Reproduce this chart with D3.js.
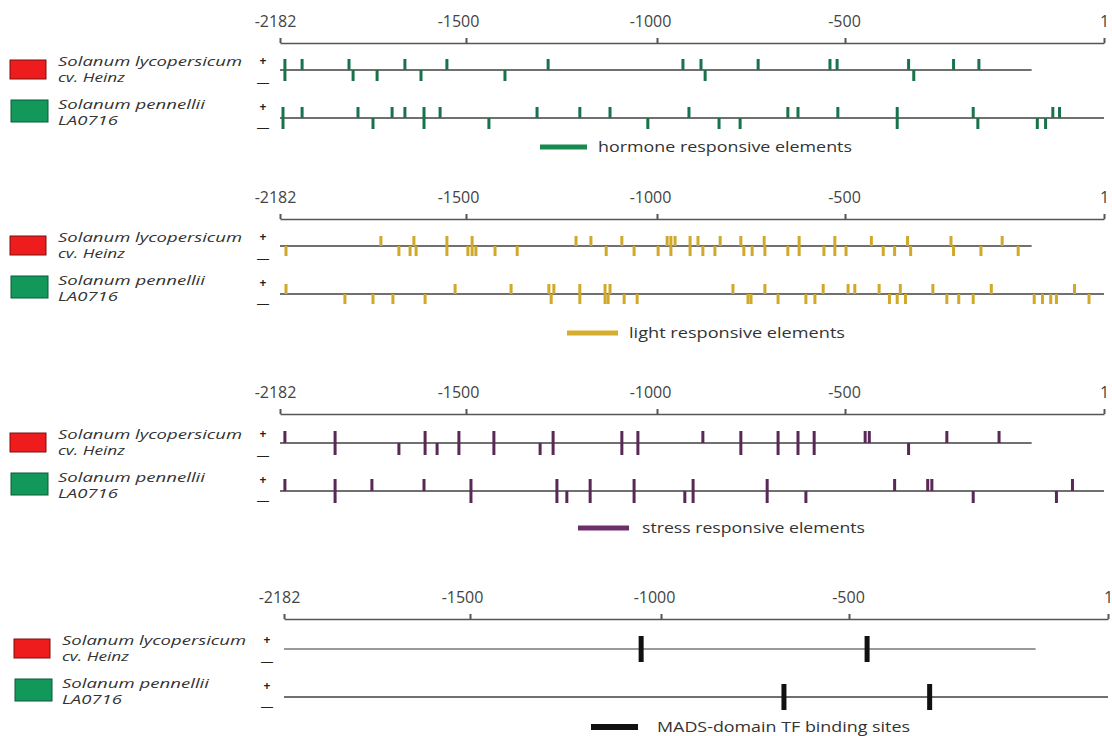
<!DOCTYPE html>
<html>
<head>
<meta charset="utf-8">
<script src="https://cdn.jsdelivr.net/npm/d3@7"></script>
<style>
body { margin: 0; background: #fff; }
text { font-family: "Open Sans", sans-serif; }
</style>
</head>
<body>
<div id="chart-area"></div>
<script>
// axis positions (bp upstream of the start)
var tickValues = [-2182, -1500, -1000, -500, 1];
var strains = [["Solanum lycopersicum", "cv. Heinz"], ["Solanum pennellii", "LA0716"]];
var elementNames = ["hormone responsive elements", "light responsive elements",
                    "stress responsive elements", "MADS-domain TF binding sites"];
var promoterEnds = [-139, 1];   // Heinz, pennellii

// hormone responsive elements
var hormoneHeinzPlus  = [-2164, -2101, -1929, -1724, -1570, -1285, -931, -883, -731, -540, -521, -377, -290, -241];
var hormoneHeinzMinus = [-2164, -1914, -1826, -1665, -1398, -872, -367];
var hormonePennPlus   = [-2171, -2101, -1896, -1771, -1724, -1654, -1595, -1314, -1202, -1123, -915, -652, -625, -519, -399, -252, -98, -85];
var hormonePennMinus  = [-2171, -1841, -1654, -1440, -1024, -835, -779, -399, -243, -128, -112];

// light responsive elements
var lightHeinzPlus  = [-1812, -1691, -1570, -1484, -1212, -1173, -1092, -973, -963, -952, -912, -891, -832, -777, -715, -622, -527, -449, -379, -295, -196];
var lightHeinzMinus = [-2160, -1746, -1705, -1683, -1570, -1495, -1484, -1474, -1424, -1366, -1133, -1060, -997, -963, -912, -878, -846, -769, -747, -713, -652, -622, -556, -527, -498, -426, -404, -373, -290, -237, -165];
var lightPennPlus   = [-2160, -1540, -1382, -1283, -1270, -1202, -1136, -1123, -798, -713, -558, -494, -481, -434, -393, -330, -217, -56];
var lightPennMinus  = [-1944, -1841, -1768, -1650, -1277, -1202, -1136, -1128, -1086, -1052, -758, -750, -678, -604, -580, -414, -399, -383, -303, -280, -252, -134, -118, -102, -91, -28];

// stress responsive elements
var stressHeinzPlus  = [-2164, -1980, -1650, -1526, -1427, -1272, -1092, -1050, -878, -777, -678, -625, -582, -461, -453, -303, -202];
var stressHeinzMinus = [-1980, -1746, -1650, -1606, -1526, -1427, -1306, -1272, -1092, -1050, -777, -678, -625, -582, -377];
var stressPennPlus   = [-2164, -1980, -1845, -1654, -1487, -1262, -1175, -1060, -904, -707, -404, -340, -332, -60];
var stressPennMinus  = [-1980, -1487, -1262, -1236, -1175, -1060, -926, -904, -707, -604, -252, -91];

// MADS-domain TF binding sites (both strands)
var madsHeinz = [-1052, -465];
var madsPenn  = [-673, -344];


var width = 1112, height = 736;

var svg = d3.select("#chart-area")
    .append("svg")
        .attr("width", width)
        .attr("height", height);

var x = d3.scaleLinear()
    .domain(tickValues)
    .range([280, 466, 657, 845, 1104]);

// the source figure is stretched sideways, so texts get a fixed length
var nameLengths = [[184, 67], [147, 60]];
var labelNudge = [-5, -8, -7, -1, 0];

var panels = [
    { color: "#17744a", swatch: "#178a50", top: 0,   dx: 0, axisShift: 0, legendY: 147, legendX: [540, 587, 598], legendLen: 254,
      markW: 3, markH: 11,
      tracks: [[hormoneHeinzPlus, hormoneHeinzMinus], [hormonePennPlus, hormonePennMinus]] },
    { color: "#d0a92a", swatch: "#d6ad2c", top: 176, dx: 0, axisShift: 0, legendY: 333, legendX: [567, 618, 629], legendLen: 216,
      markW: 3, markH: 10,
      tracks: [[lightHeinzPlus, lightHeinzMinus], [lightPennPlus, lightPennMinus]] },
    { color: "#582956", swatch: "#6d2f6b", top: 373, dx: 0, axisShift: -2, legendY: 528, legendX: [578, 629, 642], legendLen: 223,
      markW: 3, markH: 12,
      tracks: [[stressHeinzPlus, stressHeinzMinus], [stressPennPlus, stressPennMinus]] },
    { color: "#111111", swatch: "#111111", top: 579, dx: 4, axisShift: -3, legendY: 727, legendX: [591, 638, 657], legendLen: 253,
      markW: 5, markH: 13,
      tracks: [[madsHeinz, madsHeinz], [madsPenn, madsPenn]] }
];

var axisY = 43, trackY = [70, 118];

panels.forEach(function(p, i) {
    var g = svg.append("g")
        .attr("transform", "translate(" + p.dx + ", " + p.top + ")");

    // legend boxes for the two species
    g.append("rect")
        .attr("x", 10).attr("y", 60).attr("width", 36).attr("height", 19)
        .attr("fill", "#ee1c1c").attr("stroke", "#7a1010").attr("stroke-width", 1);
    g.append("rect")
        .attr("x", 11).attr("y", 100).attr("width", 37).attr("height", 22)
        .attr("fill", "#11985a").attr("stroke", "#0c5a36").attr("stroke-width", 1);

    // species names, two lines each
    var names = [[66, 82], [109, 125]];
    strains.forEach(function(s, k) {
        s.forEach(function(line, j) {
            g.append("text")
                .attr("x", 58)
                .attr("y", names[k][j])
                .attr("font-size", "13px")
                .attr("font-style", "italic")
                .attr("fill", "#333")
                .attr("textLength", nameLengths[k][j])
                .attr("lengthAdjust", "spacingAndGlyphs")
                .text(line);
        });
    });

    // strand signs
    [61, 107].forEach(function(yy) {
        g.append("text").attr("x", 263).attr("y", yy + 4)
            .attr("text-anchor", "middle").attr("font-size", "12px").attr("font-weight", "bold")
            .attr("fill", "#222").text("+");
    });
    [83, 128].forEach(function(yy) {
        g.append("text").attr("x", 263).attr("y", yy + 4)
            .attr("text-anchor", "middle").attr("font-size", "13px")
            .attr("fill", "#222").text("—");
    });

    // coordinate axis
    var axisCall = d3.axisTop(x)
        .tickValues(tickValues)
        .tickSize(5)
        .tickSizeOuter(0)
        .tickPadding(11)
        .tickFormat(function(d) { return String(d); });

    var ax = g.append("g")
        .attr("class", "x-axis")
        .attr("transform", "translate(0, " + (axisY + p.axisShift) + ")")
        .call(axisCall);
    ax.select(".domain").attr("stroke", "#555").attr("stroke-width", 1.5);
    ax.selectAll(".tick line").attr("stroke", "#555").attr("stroke-width", 2);
    ax.selectAll("text")
        .attr("font-size", "16px")
        .attr("font-family", "Open Sans, sans-serif")
        .attr("fill", "#444")
        .attr("dx", function(d, j) { return labelNudge[j]; });

    // promoter lines and elements
    p.tracks.forEach(function(tr, t) {
        var y0 = trackY[t];
        g.append("line")
            .attr("x1", x(tickValues[0]))
            .attr("x2", x(promoterEnds[t]))
            .attr("y1", y0).attr("y2", y0)
            .attr("stroke", (i === 3 && t === 0) ? "#9a9a9a" : "#707070")
            .attr("stroke-width", 2);

        var marks = tr[0].map(function(d) { return { pos: d, dir: -1 }; })
            .concat(tr[1].map(function(d) { return { pos: d, dir: 1 }; }));

        g.selectAll("rect.m" + t)
            .data(marks)
            .enter()
            .append("rect")
                .attr("class", "m" + t)
                .attr("x", function(d) { return x(d.pos) - p.markW / 2; })
                .attr("y", function(d) { return d.dir < 0 ? y0 - p.markH : y0; })
                .attr("width", p.markW)
                .attr("height", p.markH)
                .attr("fill", p.color);
    });

    // element type legend
    svg.append("line")
        .attr("x1", p.legendX[0]).attr("x2", p.legendX[1])
        .attr("y1", p.legendY).attr("y2", p.legendY)
        .attr("stroke", p.swatch)
        .attr("stroke-width", i === 3 ? 6 : 5);
    svg.append("text")
        .attr("x", p.legendX[2])
        .attr("y", p.legendY + 5)
        .attr("font-size", "15px")
        .attr("fill", "#333")
        .attr("textLength", p.legendLen)
        .attr("lengthAdjust", "spacingAndGlyphs")
        .text(elementNames[i]);
});
</script>
</body>
</html>
